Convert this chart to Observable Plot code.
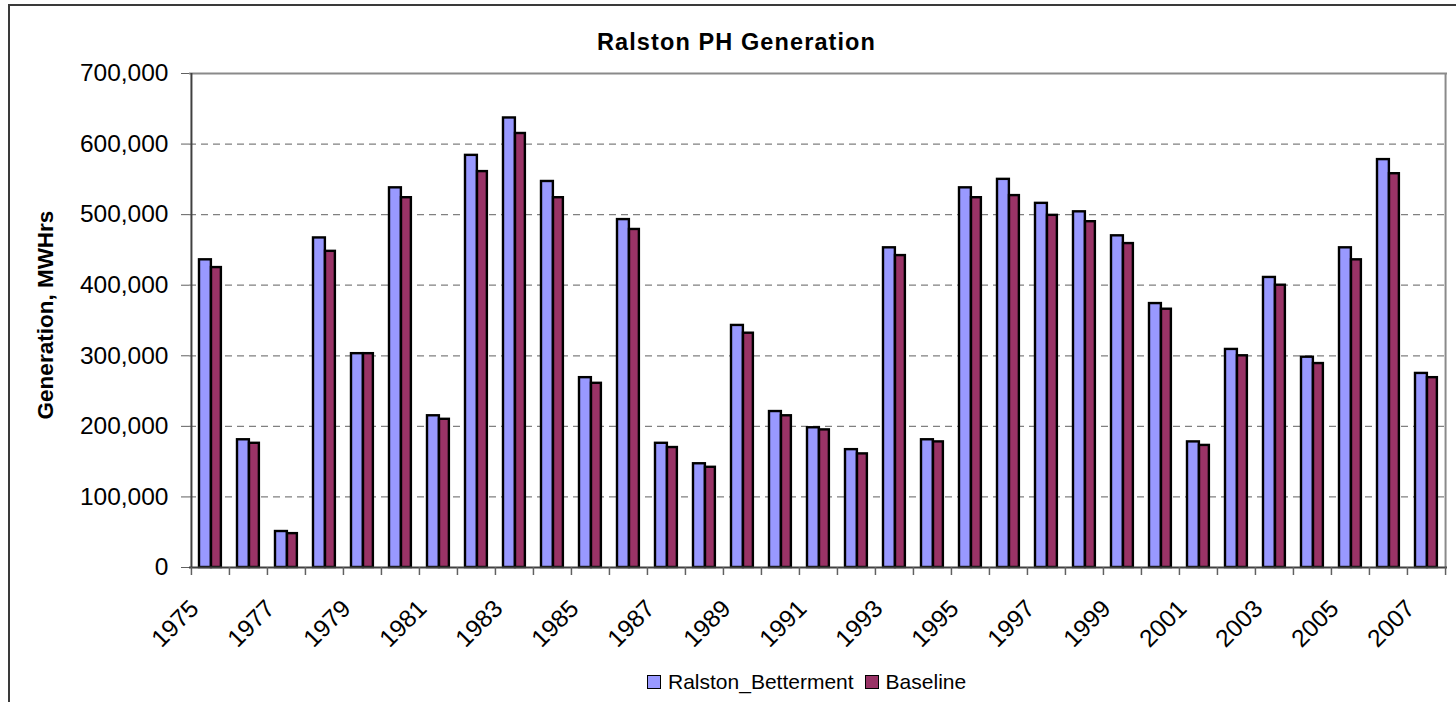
<!DOCTYPE html>
<html>
<head>
<meta charset="utf-8">
<script src="https://cdn.jsdelivr.net/npm/d3@7"></script>
<script src="https://cdn.jsdelivr.net/npm/@observablehq/plot@0.6"></script>
<style>
  html, body { margin: 0; padding: 0; background: #fff; }
  body { width: 1456px; height: 702px; overflow: hidden; position: relative; font-family: "Liberation Sans", Arial, sans-serif; }
  #border { position: absolute; left: 8px; top: 4px; width: 1500px; height: 800px; border-left: 2px solid #3a3a3a; border-top: 2px solid #3a3a3a; box-sizing: border-box; }
  #chart { position: absolute; left: 0; top: 0; }
  #title { position: absolute; left: 0; top: 29px; width: 1473px; text-align: center; font-weight: bold; font-size: 23.5px; letter-spacing: 1.1px; color: #000; }
  #ylabel { position: absolute; left: 46px; top: 315px; transform: translate(-50%, -50%) rotate(-90deg); white-space: nowrap; font-weight: bold; font-size: 22.5px; color: #000; }
  #legend { position: absolute; left: 647px; top: 670px; display: flex; align-items: center; font-size: 21px; color: #000; white-space: nowrap; }
  .sw { display: inline-block; width: 14px; height: 14px; border: 1.5px solid #000; box-sizing: border-box; margin-right: 7px; }
  .item { display: flex; align-items: center; margin-right: 11px; }
</style>
</head>
<body>
<div id="border"></div>
<div id="chart"></div>
<div id="title">Ralston PH Generation</div>
<div id="ylabel">Generation, MWHrs</div>
<div id="legend"></div>
<script>
const years = [1975,1976,1977,1978,1979,1980,1981,1982,1983,1984,1985,1986,1987,1988,1989,1990,1991,1992,1993,1994,1995,1996,1997,1998,1999,2000,2001,2002,2003,2004,2005,2006,2007];
const betterment = [436000,181000,51000,467000,303000,538000,215000,584000,637000,547000,269000,493000,176000,147000,343000,221000,198000,167000,453000,181000,538000,550000,516000,504000,470000,374000,178000,309000,411000,298000,453000,578000,275000];
const baseline = [425000,176000,48000,448000,303000,524000,210000,561000,615000,524000,261000,479000,170000,142000,332000,215000,195000,161000,442000,178000,524000,527000,499000,490000,459000,366000,173000,300000,400000,289000,436000,558000,269000];
const seriesNames = ["Ralston_Betterment", "Baseline"];
const seriesColors = ["#9999FF", "#993366"];
const yTicks = [0,100000,200000,300000,400000,500000,600000,700000];
const labelYears = years.filter((y, i) => i % 2 === 0);

const W = 1456, H = 702;
const ml = 189, mr = 9, mt = 73, mb = 135;
const bw = (W - ml - mr) / years.length;

const plot = Plot.plot({
  width: W,
  height: H,
  marginLeft: ml,
  marginRight: mr,
  marginTop: mt,
  marginBottom: mb,
  style: { fontFamily: "'Liberation Sans', Arial, sans-serif", background: "transparent", overflow: "visible" },
  x: { type: "band", domain: years, padding: 0, axis: null },
  y: { domain: [0, 700000], axis: null },
  marks: [
    Plot.ruleY(yTicks.filter(v => v > 0 && v < 700000), { stroke: "#808080", strokeWidth: 1.3, strokeDasharray: "7,5" }),
    Plot.ruleY([700000], { stroke: "#8a8a8a", strokeWidth: 2 }),
    Plot.ruleX([years[years.length - 1]], { dx: bw / 2, y1: 0, y2: 700000, stroke: "#8a8a8a", strokeWidth: 2 }),
    Plot.barY(betterment, { x: (d, i) => years[i], y: d => d, fill: seriesColors[0], stroke: "#000", strokeWidth: 2.4, insetLeft: 8, insetRight: bw - 20 }),
    Plot.barY(baseline, { x: (d, i) => years[i], y: d => d, fill: seriesColors[1], stroke: "#000", strokeWidth: 2.4, insetLeft: 20, insetRight: bw - 30 }),
    Plot.ruleX([years[0]], { dx: -bw / 2, y1: 0, y2: 700000, stroke: "#404040", strokeWidth: 2 }),
    Plot.ruleY([0], { stroke: "#404040", strokeWidth: 2 }),
    Plot.ruleX(years, { x: d => d, dx: -bw / 2, y1: 0, y2: 0, insetTop: 8, stroke: "#606060", strokeWidth: 1.5 }),
    Plot.ruleX([years[years.length - 1]], { x: d => d, dx: bw / 2, y1: 0, y2: 0, insetTop: 8, stroke: "#606060", strokeWidth: 1.5 }),
    Plot.axisY({ ticks: yTicks, tickFormat: d3.format(","), tickSize: 8, tickPadding: 13, fontSize: 24.5, color: "#000", stroke: "#606060", label: null }),
    Plot.axisX({ ticks: labelYears, tickFormat: d => String(d), tickSize: 0, tickPadding: 14, tickRotate: -45, fontSize: 24.5, color: "#000", label: null, dx: -16, dy: 23 })
  ]
});
document.getElementById("chart").appendChild(plot);

const legend = document.getElementById("legend");
seriesNames.forEach((name, i) => {
  const item = document.createElement("div");
  item.className = "item";
  const sw = document.createElement("span");
  sw.className = "sw";
  sw.style.background = seriesColors[i];
  const t = document.createElement("span");
  t.textContent = name;
  item.appendChild(sw);
  item.appendChild(t);
  legend.appendChild(item);
});
</script>
</body>
</html>
